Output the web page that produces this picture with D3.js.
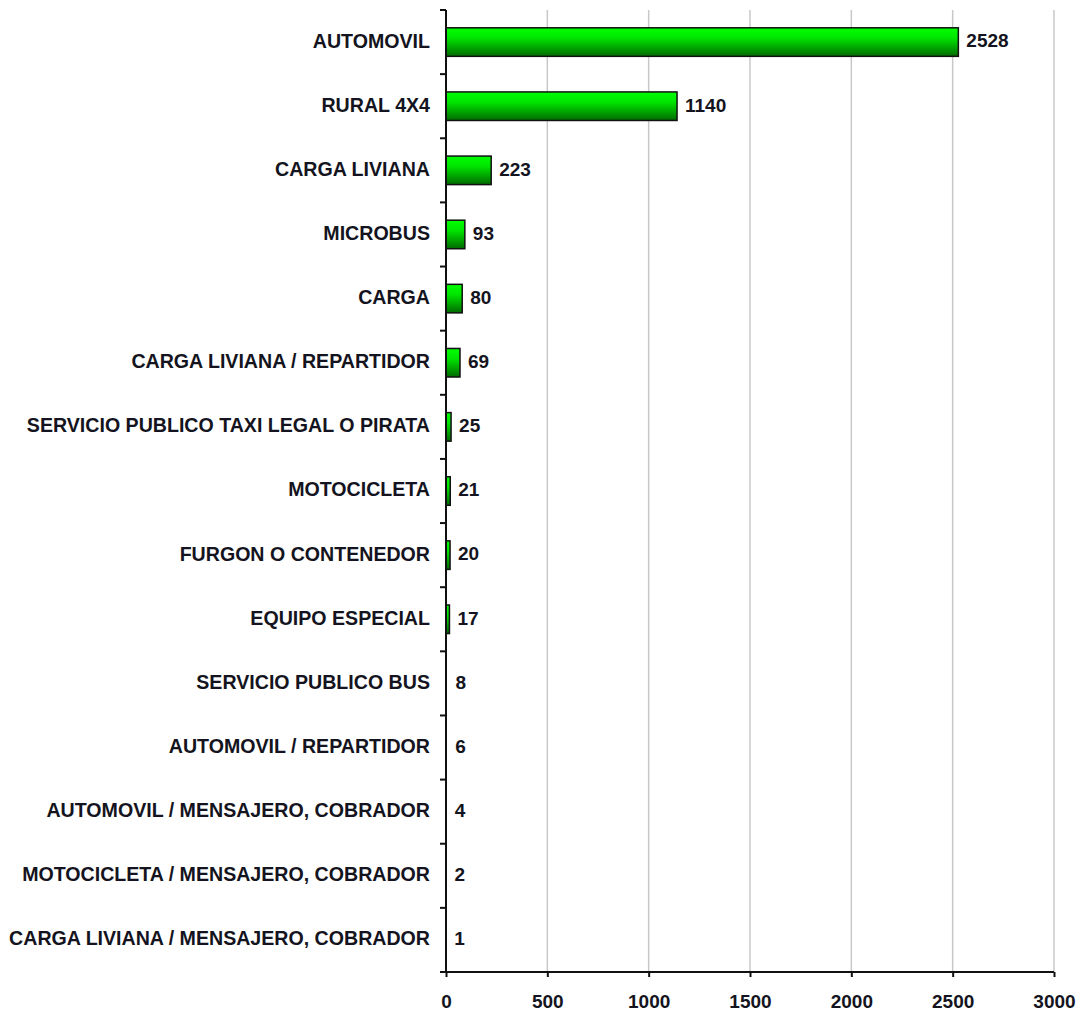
<!DOCTYPE html>
<html><head><meta charset="utf-8">
<script src="https://cdn.jsdelivr.net/npm/d3@7"></script>
<style>html,body{margin:0;padding:0;background:#fff;}svg{display:block;}</style>
</head><body>
<script>
const categories = ["AUTOMOVIL","RURAL 4X4","CARGA LIVIANA","MICROBUS","CARGA","CARGA LIVIANA / REPARTIDOR","SERVICIO PUBLICO TAXI LEGAL O PIRATA","MOTOCICLETA","FURGON O CONTENEDOR","EQUIPO ESPECIAL","SERVICIO PUBLICO BUS","AUTOMOVIL / REPARTIDOR","AUTOMOVIL / MENSAJERO, COBRADOR","MOTOCICLETA / MENSAJERO, COBRADOR","CARGA LIVIANA / MENSAJERO, COBRADOR"];
const values = [2528,1140,223,93,80,69,25,21,20,17,8,6,4,2,1];
const xTicks = [0,500,1000,1500,2000,2500,3000];

(function(){
const W = 1078, H = 1013;
const mLeft = 446, mRight = 1054, mTop = 10, mBottom = 972;
const svg = d3.select("body").append("svg").attr("width", W).attr("height", H);
const font = "'Liberation Sans', Arial, sans-serif";
const ink = "#141420";

const defs = svg.append("defs");
const grad = defs.append("linearGradient").attr("id","g").attr("x1",0).attr("y1",0).attr("x2",0).attr("y2",1);
grad.append("stop").attr("offset","0%").attr("stop-color","#00ff00");
grad.append("stop").attr("offset","35%").attr("stop-color","#00e600");
grad.append("stop").attr("offset","100%").attr("stop-color","#006a00");

const x = d3.scaleLinear().domain([0,3000]).range([mLeft,mRight]);
const y = d3.scaleBand().domain(categories).range([mTop,mBottom]).paddingInner(0.555).paddingOuter(0.2775);

svg.append("g").selectAll("line").data(xTicks.filter(t=>t>0)).join("line")
  .attr("x1",d=>x(d)).attr("x2",d=>x(d)).attr("y1",mTop).attr("y2",mBottom)
  .attr("stroke","#c8c8c8").attr("stroke-width",1.5);

const data = categories.map((c,i)=>({c, v: values[i]}));
svg.append("g").selectAll("rect").data(data.filter(d=>x(d.v)-x(0)>2)).join("rect")
  .attr("x", x(0)).attr("y", d=>y(d.c))
  .attr("width", d=>x(d.v)-x(0)).attr("height", y.bandwidth())
  .attr("fill","url(#g)").attr("stroke","#111").attr("stroke-width",1.5);

svg.append("g").selectAll("text").data(data).join("text")
  .attr("x", d=>x(d.v)+8).attr("y", d=>y(d.c)+y.bandwidth()/2)
  .attr("dy","0.28em").attr("font-family",font).attr("font-weight","bold").attr("font-size",19)
  .attr("fill",ink).text(d=>d.v);

const xa = svg.append("g").attr("transform",`translate(0,${mBottom})`)
  .call(d3.axisBottom(x).tickValues(xTicks).tickSize(5).tickPadding(18).tickFormat(d3.format("d")));
xa.select(".domain").attr("stroke","#111").attr("stroke-width",2).attr("d",`M${mLeft},0H${mRight}`);
xa.selectAll(".tick line").attr("stroke","#111").attr("stroke-width",2);
xa.selectAll(".tick text").attr("font-family",font).attr("font-weight","bold").attr("font-size",19).attr("fill",ink);

svg.append("line").attr("x1",mLeft).attr("x2",mLeft).attr("y1",mTop).attr("y2",mBottom)
  .attr("stroke","#111").attr("stroke-width",2);
const bounds = d3.range(categories.length+1).map(i=>mTop + i*(mBottom-mTop)/categories.length);
svg.append("g").selectAll("line").data(bounds).join("line")
  .attr("x1",mLeft-6).attr("x2",mLeft).attr("y1",d=>d).attr("y2",d=>d)
  .attr("stroke","#111").attr("stroke-width",2);

svg.append("g").selectAll("text").data(categories).join("text")
  .attr("x", mLeft-16).attr("y", d=>y(d)+y.bandwidth()/2).attr("dy","0.28em")
  .attr("text-anchor","end").attr("font-family",font).attr("font-weight","bold").attr("font-size",19.6)
  .attr("fill",ink).text(d=>d);
})();
</script>
</body></html>
